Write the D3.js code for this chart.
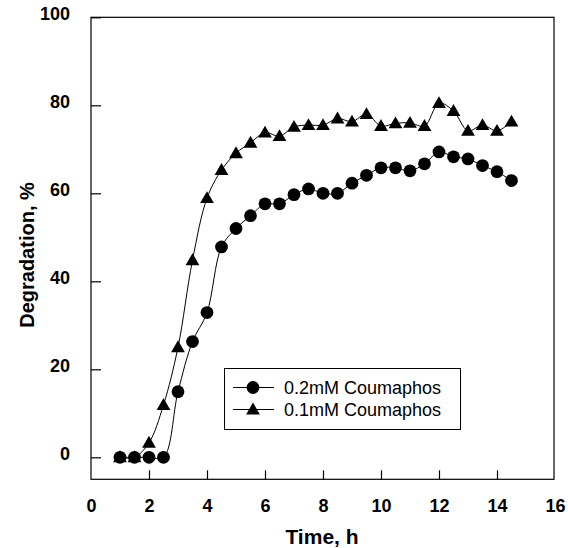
<!DOCTYPE html>
<html>
<head>
<meta charset="utf-8">
<script src="https://cdn.jsdelivr.net/npm/d3@7"></script>
<style>
html, body { margin: 0; padding: 0; background: #fff; }
svg { display: block; }
text { font-family: Arial, "Liberation Sans", sans-serif; }
</style>
</head>
<body>
<svg id="chart" width="568" height="548"></svg>
<script>
const times = [1, 1.5, 2, 2.5, 3, 3.5, 4, 4.5, 5, 5.5, 6, 6.5, 7, 7.5, 8, 8.5, 9, 9.5, 10, 10.5, 11, 11.5, 12, 12.5, 13, 13.5, 14, 14.5];
const conc02 = [0, 0, 0, 0, 14.9, 26.3, 32.9, 47.8, 52.0, 54.9, 57.6, 57.6, 59.7, 61.0, 60.0, 60.0, 62.3, 64.1, 65.8, 65.8, 65.1, 66.7, 69.4, 68.3, 67.8, 66.3, 64.9, 62.9];
const conc01 = [0, 0, 3.3, 11.9, 25.0, 44.8, 58.9, 65.3, 69.1, 71.5, 73.8, 73.0, 75.1, 75.5, 75.5, 77.0, 76.3, 78.0, 75.3, 75.9, 76.0, 75.3, 80.5, 78.7, 74.2, 75.5, 74.2, 76.3];
const seriesNames = ["0.2mM Coumaphos", "0.1mM Coumaphos"];
const xTicks = [0, 2, 4, 6, 8, 10, 12, 14, 16];
const yTicks = [0, 20, 40, 60, 80, 100];

const svg = d3.select("#chart");
const L = 91, R = 555, T = 17.3, B = 479.3;
const x = d3.scaleLinear().domain([0, 16]).range([L, R]);
const y = d3.scaleLinear().domain([-5, 100]).range([B, T]);

// frame
svg.append("rect").attr("x", L).attr("y", T).attr("width", R - 1 - L).attr("height", B - T)
  .attr("fill", "none").attr("stroke", "#000").attr("stroke-width", 1.2);

// x axis
const xAxis = svg.append("g").attr("transform", `translate(0,${B})`)
  .call(d3.axisBottom(x).tickValues(xTicks).tickSizeInner(-9).tickSizeOuter(0).tickPadding(20).tickFormat(d3.format("d")));
xAxis.select(".domain").remove();
xAxis.selectAll(".tick line").filter(d => d === 0 || d === 16).remove();
xAxis.selectAll("text").attr("font-size", 18).attr("font-weight", "bold").attr("fill", "#000")
  .attr("font-family", "Arial, 'Liberation Sans', sans-serif");

// y axis
const yAxis = svg.append("g").attr("transform", `translate(${L},0)`)
  .call(d3.axisLeft(y).tickValues(yTicks).tickSizeInner(-10).tickSizeOuter(0).tickPadding(21).tickFormat(d3.format("d")));
yAxis.select(".domain").remove();
yAxis.selectAll("text").attr("font-size", 18).attr("font-weight", "bold").attr("fill", "#000")
  .attr("dy", "0.1em")
  .attr("font-family", "Arial, 'Liberation Sans', sans-serif");
svg.selectAll(".tick line").attr("stroke", "#000").attr("stroke-width", 1.2);

// titles
svg.append("text").attr("x", 322).attr("y", 544).attr("text-anchor", "middle")
  .attr("font-size", 21).attr("font-weight", "bold").text("Time, h");
svg.append("text").attr("transform", "translate(34,255) rotate(-90)").attr("text-anchor", "middle")
  .attr("font-size", 20).attr("font-weight", "bold").text("Degradation, %");

const line = d3.line().x(d => x(d[0])).y(d => y(d[1])).curve(d3.curveCatmullRom.alpha(0.5));
const d02 = times.map((t, i) => [t, conc02[i]]);
const d01 = times.map((t, i) => [t, conc01[i]]);

const triSym = d3.symbol().type(d3.symbolTriangle).size(82);
const circSym = d3.symbol().type(d3.symbolCircle).size(128);

function drawSeries(data, sym, triangle) {
  svg.append("path").datum(data).attr("d", line).attr("fill", "none").attr("stroke", "#000").attr("stroke-width", 1);
  svg.append("g").selectAll("path").data(data).join("path")
    .attr("d", sym)
    .attr("transform", d => `translate(${x(d[0])},${y(d[1]) + (triangle ? 1 : 0)})`)
    .attr("fill", "#000");
}
drawSeries(d01, triSym, true);
drawSeries(d02, circSym, false);

// legend
const lg = svg.append("g");
lg.append("rect").attr("x", 224.5).attr("y", 368.5).attr("width", 236).attr("height", 61)
  .attr("fill", "#fff").attr("stroke", "#000").attr("stroke-width", 1);
const rows = [{name: seriesNames[0], sym: circSym, yy: 387.5, tri: false}, {name: seriesNames[1], sym: triSym, yy: 409.5, tri: true}];
rows.forEach(r => {
  lg.append("line").attr("x1", 233).attr("x2", 274).attr("y1", r.yy).attr("y2", r.yy).attr("stroke", "#000").attr("stroke-width", 1);
  lg.append("path").attr("d", r.sym).attr("transform", `translate(253,${r.yy + (r.tri ? 1 : 0)})`).attr("fill", "#000");
  lg.append("text").attr("x", 284).attr("y", r.yy).attr("dy", "0.36em").attr("font-size", 18).text(r.name);
});
</script>
</body>
</html>
